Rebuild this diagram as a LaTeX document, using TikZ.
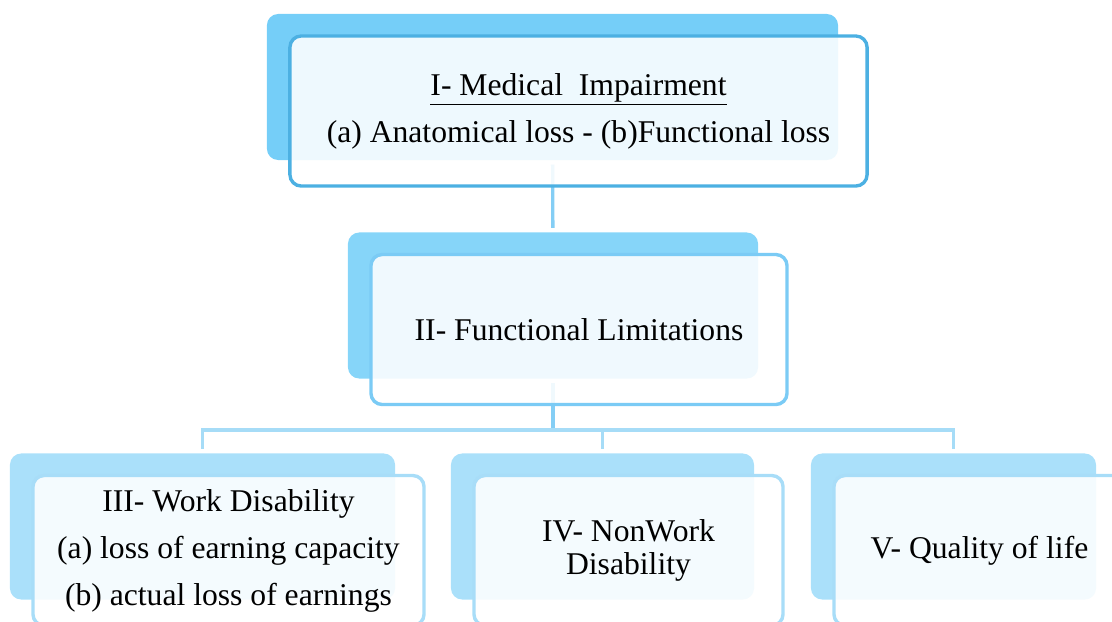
\documentclass[tikz,border=0pt]{standalone}
\usepackage{fontspec}
\setmainfont{Liberation Serif}
\usepackage{tikz}
\usetikzlibrary{positioning, calc}
\definecolor{BackDeep}{HTML}{75CEF8}
\definecolor{BackMid}{HTML}{86D5F9}
\definecolor{BackLight}{HTML}{AAE0FA}
\definecolor{EdgeDeep}{HTML}{4CB0E2}
\definecolor{EdgeMid}{HTML}{7BCBF5}
\definecolor{EdgeLight}{HTML}{A8DDF8}
\definecolor{LinkDeep}{HTML}{84CEF5}
\definecolor{LinkLight}{HTML}{A6DCF7}

\begin{document}
\begin{tikzpicture}[
  x=0.025cm, y=-0.025cm,
  back/.style={rectangle, rounded corners=8pt, minimum height=3.65cm,
    inner sep=0pt},
  front/.style={rectangle, rounded corners=8pt, minimum height=3.75cm,
    line width=2.4pt, fill=white, fill opacity=0.88, text opacity=1,
    align=center, font=\fontsize{22.5}{33.4}\selectfont},
  link/.style={line width=2.4pt, shorten <=3pt, shorten >=3pt}
]
\useasboundingbox (0,0) rectangle (1112,621);
\clip (0,0) rectangle (1112,621);

% back panels
\node[back, fill=BackDeep, minimum width=14.275cm] (back1) at (552.5,87) {};
\node[back, fill=BackMid, minimum width=10.25cm] (back2) at (553,305.5) {};
\node[back, fill=BackLight, minimum width=9.625cm] (back3) at (202.5,526.5) {};
\node[back, fill=BackLight, minimum width=7.575cm] (back4) at (602.5,526.5) {};
\node[back, fill=BackLight, minimum width=7.125cm] (back5) at (953.5,526.5) {};

% Arrows
\coordinate (split) at (553,430);
\draw[link, LinkDeep] (back1) -- (back2);
\draw[link, LinkDeep, shorten >=0pt] (back2) -- (split);
\draw[link, LinkLight, shorten <=0pt] (split) -| (back3.north);
\draw[link, LinkLight, shorten <=0pt] (split) -| (back4.north);
\draw[link, LinkLight, shorten <=0pt] (split) -| (back5.north);

% front panels
\node[front, draw=EdgeDeep, minimum width=14.425cm]
  (front1) at ([shift={(26,24)}]back1.center)
  {\underline{I- Medical\ \ Impairment}\\(a) Anatomical loss - (b)Functional loss};
\node[front, draw=EdgeMid, minimum width=10.4cm]
  (front2) at ([shift={(26,24)}]back2.center) {II- Functional Limitations};
\node[front, draw=EdgeLight, minimum width=9.775cm]
  (front3) at ([shift={(26,24)}]back3.center)
  {III- Work Disability\\(a) loss of earning capacity\\(b) actual loss of earnings};
\node[front, draw=EdgeLight, minimum width=7.725cm]
  (front4) at ([shift={(26,24)}]back4.center) {IV- NonWork\\[-10pt]Disability};
\node[front, draw=EdgeLight, minimum width=7.275cm]
  (front5) at ([shift={(26,24)}]back5.center) {V- Quality of life};

\end{tikzpicture}
\end{document}
